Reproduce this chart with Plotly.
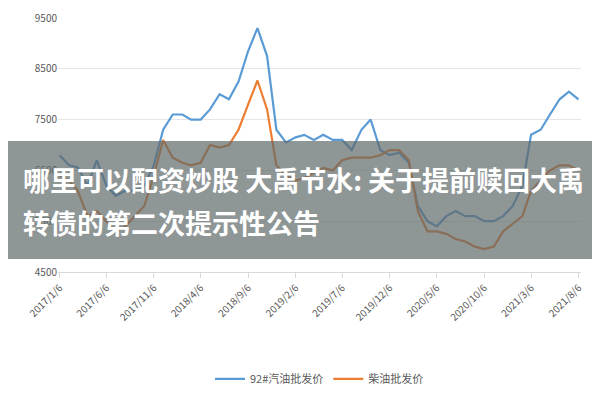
import plotly.graph_objects as go
import pandas as pd

dates = pd.date_range("2017-01-01", periods=56, freq="MS") + pd.Timedelta(days=5)
gasoline = [6800,6600,6560,6200,6700,6200,6000,6100,6100,6200,6600,7300,7600,7600,7500,7500,7700,8000,7900,8250,8850,9300,8750,7300,7050,7150,7200,7100,7200,7100,7100,6900,7300,7500,6900,6800,6850,6650,5800,5500,5400,5600,5700,5600,5600,5500,5500,5600,5800,6200,7200,7300,7600,7900,8050,7900]
diesel = [6400,6300,6100,5600,5700,5500,5300,5400,5600,5800,6400,7100,6750,6650,6600,6650,7000,6950,7000,7300,7800,8270,7700,6600,6400,6300,6350,6450,6550,6500,6700,6750,6750,6750,6800,6900,6900,6700,5700,5300,5300,5250,5150,5100,5000,4950,5000,5300,5450,5600,6100,6300,6500,6600,6600,6500]
tick_labels = ["2017/1/6","2017/6/6","2017/11/6","2018/4/6","2018/9/6","2019/2/6","2019/7/6","2019/12/6","2020/5/6","2020/10/6","2021/3/6","2021/8/6"]
tick_vals = [pd.to_datetime(t, format="%Y/%m/%d") for t in tick_labels]

fig = go.Figure()
fig.add_trace(go.Scatter(x=dates, y=gasoline, mode="lines", name="92#汽油批发价",
                         line=dict(color="#5b9bd5", width=2.2)))
fig.add_trace(go.Scatter(x=dates, y=diesel, mode="lines", name="柴油批发价",
                         line=dict(color="#ed7d31", width=2.2)))
fig.update_layout(
    width=600, height=400, paper_bgcolor="white", plot_bgcolor="white",
    margin=dict(l=50, r=27, t=10, b=136, autoexpand=False),
    font=dict(family="Noto Sans CJK SC", size=10, color="#595959"),
    legend=dict(orientation="h", x=0.5, xanchor="center", y=-0.421, yanchor="middle", font=dict(size=11)),
    xaxis=dict(tickvals=tick_vals, ticktext=tick_labels, tickangle=-45, showgrid=False, automargin=False,
               showline=True, linecolor="#d9d9d9", ticks="outside", tickcolor="#d9d9d9",
               range=[dates[0]-pd.Timedelta(days=5), dates[-1]+pd.Timedelta(days=8)]),
    yaxis=dict(range=[4500, 9500], tickvals=[4500,5500,6500,7500,8500,9500], automargin=False,
               showgrid=True, gridcolor="#e6e6e6", zeroline=False),
)
fig.add_shape(type="rect", xref="paper", yref="paper", x0=-0.2, x1=1.2, y0=0.051, y1=0.516,
              fillcolor="rgba(95,105,105,0.7)", line_width=0, layer="above")
fig.add_annotation(xref="paper", yref="paper", x=-0.07, y=0.366, xanchor="left", yanchor="middle",
                   showarrow=False, text="<b>哪里可以配资炒股 大禹节水: 关于提前赎回大禹</b>",
                   font=dict(size=27, color="white", family="Noto Sans CJK SC"))
fig.add_annotation(xref="paper", yref="paper", x=-0.07, y=0.193, xanchor="left", yanchor="middle",
                   showarrow=False, text="<b>转债的第二次提示性公告</b>",
                   font=dict(size=27, color="white", family="Noto Sans CJK SC"))
fig.write_html("out.html")
